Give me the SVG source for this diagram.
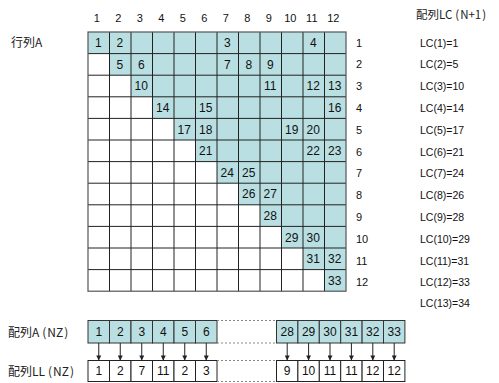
<svg xmlns="http://www.w3.org/2000/svg" width="499" height="383" viewBox="0 0 499 383">
<defs>
<style>
.t{font-family:"Liberation Sans","Noto Sans CJK JP",Arial,sans-serif;fill:#111;}
.n{font-size:12px;text-anchor:middle;}
.h{font-size:11px;text-anchor:middle;}
.s{font-size:10.5px;}
.j{font-family:"Noto Sans CJK JP","Liberation Sans",sans-serif;font-size:12px;fill:#222;}
.fill{fill:#b9dfe2;}
.grid{fill:none;stroke:#222;stroke-width:1;}
.box{stroke:#333;stroke-width:1;}
.dot{stroke:#888;stroke-width:1;stroke-dasharray:2,2;fill:none;}
.arr{stroke:#222;stroke-width:1;fill:none;marker-end:url(#ah);}
</style>
<marker id="ah" viewBox="0 0 6 6" refX="5.5" refY="3" markerWidth="5" markerHeight="5" orient="auto" markerUnits="userSpaceOnUse"><path d="M0,0 L6,3 L0,6 Z" fill="#222"/></marker>
</defs>
<rect width="499" height="383" fill="#fff"/>

<g id="labels">
<text class="j" x="11" y="46.5">行列A</text>
<text class="j" x="416" y="19" style="font-size:11.5px">配列LC<tspan dx="3">(</tspan><tspan dx="1">N+1</tspan><tspan dx="1">)</tspan></text>
<text class="j" x="8" y="337">配列A<tspan dx="3">(</tspan><tspan dx="1">NZ</tspan><tspan dx="1">)</tspan></text>
<text class="j" x="8" y="375.5">配列LL<tspan dx="3">(</tspan><tspan dx="1">NZ</tspan><tspan dx="1">)</tspan></text>
</g>

<g id="col-headers" class="t h">
<text x="96.8" y="21.5">1</text><text x="118.3" y="21.5">2</text><text x="139.8" y="21.5">3</text><text x="161.3" y="21.5">4</text><text x="182.8" y="21.5">5</text><text x="204.3" y="21.5">6</text><text x="225.8" y="21.5">7</text><text x="247.3" y="21.5">8</text><text x="268.8" y="21.5">9</text><text x="290.3" y="21.5">10</text><text x="311.8" y="21.5">11</text><text x="333.3" y="21.5">12</text>
</g>

<g id="matrixA">
<polygon class="fill" points="88,32 346,32 346,291.2 324.5,291.2 324.5,269.6 303,269.6 303,248 281.5,248 281.5,226.4 260,226.4 260,204.8 238.5,204.8 238.5,183.2 217,183.2 217,161.6 195.5,161.6 195.5,140 174,140 174,118.4 152.5,118.4 152.5,96.8 131,96.8 131,75.2 109.5,75.2 109.5,53.6 88,53.6"/>
<path class="grid" d="M109.5,32V291.2M131,32V291.2M152.5,32V291.2M174,32V291.2M195.5,32V291.2M217,32V291.2M238.5,32V291.2M260,32V291.2M281.5,32V291.2M303,32V291.2M324.5,32V291.2M88,53.6H346M88,75.2H346M88,96.8H346M88,118.4H346M88,140H346M88,161.6H346M88,183.2H346M88,204.8H346M88,226.4H346M88,248H346M88,269.6H346"/>
<rect x="88" y="32" width="258" height="259.2" fill="none" stroke="#555" stroke-width="1.2"/>
<g class="t n">
<text x="98.25" y="47.1">1</text><text x="119.75" y="47.1">2</text><text x="227.25" y="47.1">3</text><text x="313.25" y="47.1">4</text>
<text x="119.75" y="68.7">5</text><text x="141.25" y="68.7">6</text><text x="227.25" y="68.7">7</text><text x="248.75" y="68.7">8</text><text x="270.25" y="68.7">9</text>
<text x="141.25" y="90.3">10</text><text x="270.25" y="90.3">11</text><text x="313.25" y="90.3">12</text><text x="334.75" y="90.3">13</text>
<text x="162.75" y="111.9">14</text><text x="205.75" y="111.9">15</text><text x="334.75" y="111.9">16</text>
<text x="184.25" y="133.5">17</text><text x="205.75" y="133.5">18</text><text x="291.75" y="133.5">19</text><text x="313.25" y="133.5">20</text>
<text x="205.75" y="155.1">21</text><text x="313.25" y="155.1">22</text><text x="334.75" y="155.1">23</text>
<text x="227.25" y="176.7">24</text><text x="248.75" y="176.7">25</text>
<text x="248.75" y="198.3">26</text><text x="270.25" y="198.3">27</text>
<text x="270.25" y="219.9">28</text>
<text x="291.75" y="241.5">29</text><text x="313.25" y="241.5">30</text>
<text x="313.25" y="263.1">31</text><text x="334.75" y="263.1">32</text>
<text x="334.75" y="284.7">33</text>
</g>
</g>

<g id="row-headers" class="t s" style="font-size:11px">
<text x="356" y="46.6">1</text><text x="356" y="68.4">2</text><text x="356" y="90.2">3</text><text x="356" y="112">4</text><text x="356" y="133.8">5</text><text x="356" y="155.6">6</text><text x="356" y="177.4">7</text><text x="356" y="199.2">8</text><text x="356" y="221">9</text><text x="356" y="242.8">10</text><text x="356" y="264.6">11</text><text x="356" y="286.4">12</text>
</g>

<g id="arrayLC" class="t s">
<text x="420" y="46.6">LC(1)=1</text>
<text x="420" y="68.4">LC(2)=5</text>
<text x="420" y="90.2">LC(3)=10</text>
<text x="420" y="112">LC(4)=14</text>
<text x="420" y="133.8">LC(5)=17</text>
<text x="420" y="155.6">LC(6)=21</text>
<text x="420" y="177.4">LC(7)=24</text>
<text x="420" y="199.2">LC(8)=26</text>
<text x="420" y="221">LC(9)=28</text>
<text x="420" y="242.8">LC(10)=29</text>
<text x="420" y="264.6">LC(11)=31</text>
<text x="420" y="286.4">LC(12)=33</text>
<text x="420" y="307">LC(13)=34</text>
</g>

<g id="arrayA">
<g class="fill box">
<rect x="88" y="320.5" width="21.5" height="22.5"/><rect x="109.5" y="320.5" width="21.5" height="22.5"/><rect x="131" y="320.5" width="21.5" height="22.5"/><rect x="152.5" y="320.5" width="21.5" height="22.5"/><rect x="174" y="320.5" width="21.5" height="22.5"/><rect x="195.5" y="320.5" width="21.5" height="22.5"/>
<rect x="276.5" y="320.5" width="21.4" height="22.5"/><rect x="297.9" y="320.5" width="21.4" height="22.5"/><rect x="319.3" y="320.5" width="21.4" height="22.5"/><rect x="340.7" y="320.5" width="21.4" height="22.5"/><rect x="362.1" y="320.5" width="21.4" height="22.5"/><rect x="383.5" y="320.5" width="21.4" height="22.5"/>
</g>
<path class="dot" d="M217,320.5H276.5M217,343H276.5"/>
<g class="t n">
<text x="98.75" y="336.2">1</text><text x="120.25" y="336.2">2</text><text x="141.75" y="336.2">3</text><text x="163.25" y="336.2">4</text><text x="184.75" y="336.2">5</text><text x="206.25" y="336.2">6</text>
<text x="287.2" y="336.2">28</text><text x="308.6" y="336.2">29</text><text x="330" y="336.2">30</text><text x="351.4" y="336.2">31</text><text x="372.8" y="336.2">32</text><text x="394.2" y="336.2">33</text>
</g>
</g>

<g id="arrayLL">
<g fill="#fff" stroke="#222" stroke-width="1">
<rect x="88" y="360.5" width="21.5" height="21"/><rect x="109.5" y="360.5" width="21.5" height="21"/><rect x="131" y="360.5" width="21.5" height="21"/><rect x="152.5" y="360.5" width="21.5" height="21"/><rect x="174" y="360.5" width="21.5" height="21"/><rect x="195.5" y="360.5" width="21.5" height="21"/>
<rect x="276.5" y="360.5" width="21.4" height="21"/><rect x="297.9" y="360.5" width="21.4" height="21"/><rect x="319.3" y="360.5" width="21.4" height="21"/><rect x="340.7" y="360.5" width="21.4" height="21"/><rect x="362.1" y="360.5" width="21.4" height="21"/><rect x="383.5" y="360.5" width="21.4" height="21"/>
</g>
<path class="dot" d="M217,360.5H276.5M217,381.5H276.5"/>
<g class="t n">
<text x="98.75" y="375.4">1</text><text x="120.25" y="375.4">2</text><text x="141.75" y="375.4">7</text><text x="163.25" y="375.4">11</text><text x="184.75" y="375.4">2</text><text x="206.25" y="375.4">3</text>
<text x="287.2" y="375.4">9</text><text x="308.6" y="375.4">10</text><text x="330" y="375.4">11</text><text x="351.4" y="375.4">11</text><text x="372.8" y="375.4">12</text><text x="394.2" y="375.4">12</text>
</g>
</g>

<g id="connectors">
<path class="arr" d="M98.75,343V360"/><path class="arr" d="M120.25,343V360"/><path class="arr" d="M141.75,343V360"/><path class="arr" d="M163.25,343V360"/><path class="arr" d="M184.75,343V360"/><path class="arr" d="M206.25,343V360"/>
<path class="arr" d="M287.2,343V360"/><path class="arr" d="M308.6,343V360"/><path class="arr" d="M330,343V360"/><path class="arr" d="M351.4,343V360"/><path class="arr" d="M372.8,343V360"/><path class="arr" d="M394.2,343V360"/>
</g>
</svg>
